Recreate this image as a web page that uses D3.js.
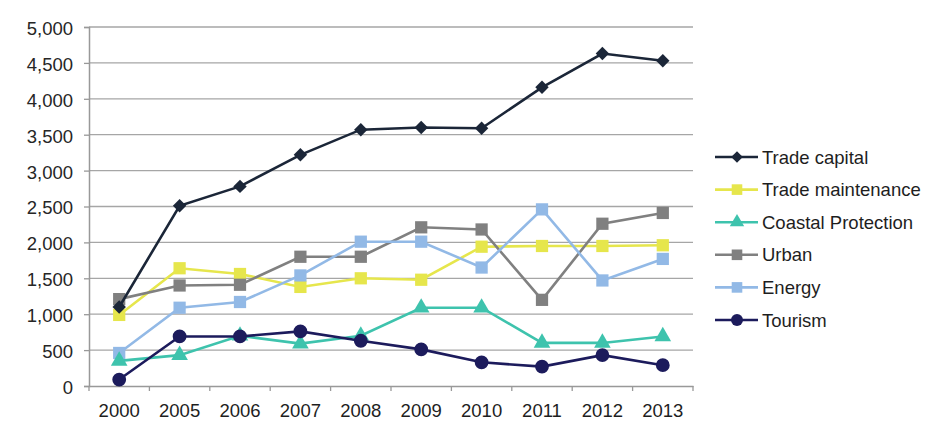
<!DOCTYPE html>
<html><head><meta charset="utf-8">
<script src="https://cdn.jsdelivr.net/npm/d3@7"></script>
<style>body{margin:0;background:#fff;}svg{display:block;}text{font-family:"Liberation Sans",Arial,sans-serif;}</style>
</head><body><svg id="c" width="938" height="423"></svg>
<script>
const years = ["2000","2005","2006","2007","2008","2009","2010","2011","2012","2013"];
const tradeCapital = [1100,2510,2780,3220,3570,3600,3590,4160,4630,4530];
const tradeMaintenance = [990,1640,1560,1380,1500,1480,1940,1950,1950,1960];
const coastalProtection = [350,430,700,590,700,1090,1090,600,600,690];
const urban = [1210,1400,1410,1800,1800,2210,2180,1200,2260,2410];
const energy = [460,1090,1170,1540,2010,2010,1650,2460,1470,1770];
const tourism = [90,690,690,760,630,510,330,270,430,290];
const yTicks = [0,500,1000,1500,2000,2500,3000,3500,4000,4500,5000];

const series = [
  {name:"Trade capital", values:tradeCapital, color:"#1b2638", shape:"diamond", size:90},
  {name:"Trade maintenance", values:tradeMaintenance, color:"#e6e64c", shape:"square", size:150},
  {name:"Coastal Protection", values:coastalProtection, color:"#3ec3ad", shape:"triangle", size:120},
  {name:"Urban", values:urban, color:"#808080", shape:"square", size:150},
  {name:"Energy", values:energy, color:"#92b9e6", shape:"square", size:150},
  {name:"Tourism", values:tourism, color:"#1c1b5c", shape:"circle", size:150}
];
const drawOrder = [1,3,4,2,5,0];

const svg = d3.select("#c");
const mLeft = 89, mRight = 693, mTop = 27, mBottom = 386;
const x = d3.scaleBand().domain(years).range([mLeft, mRight]);
const y = d3.scaleLinear().domain([0,5000]).range([mBottom, mTop]);

// gridlines
svg.append("g").selectAll("line").data(yTicks.filter(d=>d>0)).join("line")
  .attr("x1", mLeft).attr("x2", mRight).attr("y1", d=>y(d)).attr("y2", d=>y(d))
  .attr("stroke", "#a6a6a6").attr("stroke-width", 1.3);

// y axis
const ya = svg.append("g").attr("transform", `translate(${mLeft},0)`)
  .call(d3.axisLeft(y).tickValues(yTicks).tickFormat(d3.format(",")).tickSize(5).tickPadding(11));
ya.select(".domain").attr("stroke", "#999").attr("stroke-width", 1.5);
ya.selectAll(".tick line").attr("stroke", "#999").attr("stroke-width", 1.3);
ya.selectAll("text").attr("font-size", 18.5).attr("fill", "#262626").attr("dy", "0.4em");

// x axis
const xa = svg.append("g").attr("transform", `translate(0,${mBottom})`)
  .call(d3.axisBottom(x).tickSize(0).tickPadding(10));
xa.select(".domain").attr("stroke", "#999").attr("stroke-width", 1.5);
xa.selectAll("text").attr("font-size", 18.5).attr("fill", "#1e1e1e").attr("y", 31).attr("dy", 0);
xa.selectAll("line.bnd").data(years.concat(["end"])).join("line").attr("class","bnd")
  .attr("x1", (d,i)=> mLeft + i*x.bandwidth()).attr("x2", (d,i)=> mLeft + i*x.bandwidth())
  .attr("y1", 0).attr("y2", 5).attr("stroke", "#999").attr("stroke-width", 1.3);

const symType = {diamond:d3.symbolSquare, square:d3.symbolSquare, triangle:d3.symbolTriangle, circle:d3.symbolCircle};
const rot = s => s.shape === "diamond" ? " rotate(45)" : "";
const cx = d => x(d) + x.bandwidth()/2;
const line = d3.line().x((d,i)=>cx(years[i])).y(d=>y(d));

drawOrder.forEach(k => {
  const s = series[k];
  const g = svg.append("g");
  g.append("path").attr("d", line(s.values)).attr("fill","none").attr("stroke", s.color).attr("stroke-width", 2.6);
  g.selectAll("path.m").data(s.values).join("path").attr("class","m")
    .attr("transform", (d,i)=>`translate(${cx(years[i])},${y(d)})${rot(s)}`)
    .attr("d", d3.symbol().type(symType[s.shape]).size(s.size)).attr("fill", s.color);
});

// legend
const leg = svg.append("g");
series.forEach((s,i) => {
  const ly = 157 + i*32.6;
  leg.append("line").attr("x1", 715).attr("x2", 758).attr("y1", ly).attr("y2", ly).attr("stroke", s.color).attr("stroke-width", 2.6);
  leg.append("path").attr("transform", `translate(737,${ly})${rot(s)}`).attr("d", d3.symbol().type(symType[s.shape]).size(s.size*0.75)).attr("fill", s.color);
  leg.append("text").attr("x", 762).attr("y", ly).attr("dy", "0.36em").attr("font-size", 18.5).attr("fill", "#1e1e1e").text(s.name);
});
</script></body></html>
